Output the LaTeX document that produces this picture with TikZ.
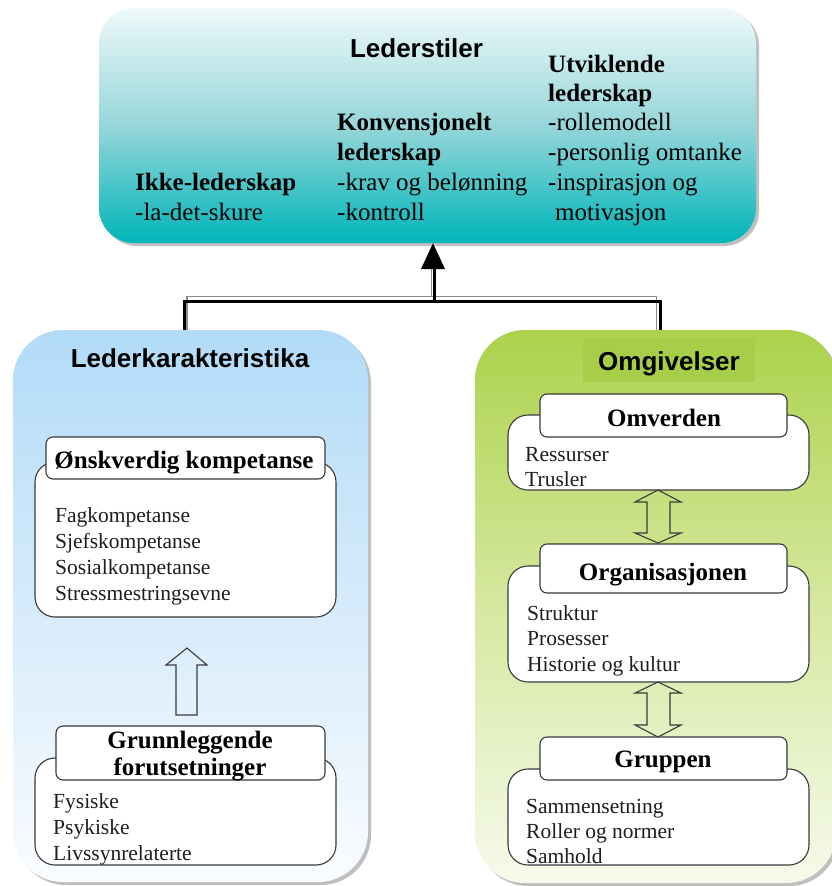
\documentclass[tikz,border=0pt]{standalone}
\usepackage{fontspec}
\setmainfont{Liberation Serif}
\setsansfont{Liberation Sans}
\newfontfamily\tnr{Liberation Serif}
\newfontfamily\arl{Liberation Sans}
\usetikzlibrary{shadows,arrows.meta}
\definecolor{tealtop}{RGB}{238,249,250}
\definecolor{tealmid}{RGB}{150,214,217}
\definecolor{tealbot}{RGB}{0,181,185}
\definecolor{bluetop}{RGB}{178,219,248}
\definecolor{bluemid}{RGB}{214,235,251}
\definecolor{bluebot}{RGB}{250,252,255}
\definecolor{greentop}{RGB}{172,210,76}
\definecolor{greenmid}{RGB}{214,232,160}
\definecolor{greenbot}{RGB}{246,250,236}
\definecolor{greenrect}{RGB}{166,206,72}
\definecolor{linegray}{RGB}{58,58,58}
\definecolor{txtgray}{RGB}{30,30,30}
\tikzset{
  bigbox/.style={draw=none, inner sep=0pt, rounded corners=50pt,
    drop shadow={shadow xshift=3pt, shadow yshift=-3pt, opacity=0.25, fill=black}},
  bodybox/.style={draw=linegray, line width=1.1pt, fill=white, rounded corners=20pt, inner sep=0pt},
  headbox/.style={draw=linegray, line width=1.1pt, fill=white, rounded corners=7pt, inner sep=0pt},
  titletxt/.style={anchor=base, inner sep=0pt, font=\arl\bfseries\fontsize{26}{30}\selectfont},
  toptxt/.style={anchor=base west, inner sep=0pt, font=\tnr\fontsize{25}{30}\selectfont},
  topbold/.style={toptxt, font=\tnr\bfseries\fontsize{25}{30}\selectfont},
  headtxt/.style={anchor=base, inner sep=0pt, font=\tnr\bfseries\fontsize{25}{30}\selectfont},
  bodytxt/.style={anchor=base west, inner sep=0pt, text=txtgray, font=\tnr\fontsize{21.5}{26}\selectfont},
  connblack/.style={line width=3pt, black},
  conngray/.style={line width=1.3pt, black!45},
  hollow/.style={draw=linegray, line width=1.1pt, line join=miter}
}
\begin{document}
\begin{tikzpicture}[x=1pt,y=-1pt]
\clip (0,0) rectangle (832,886);
\fill[white] (0,0) rectangle (832,886);

% big boxes
\node[bigbox, rounded corners=35pt, minimum width=657pt, minimum height=235pt,
  top color=tealtop, bottom color=tealbot, middle color=tealmid] (styles) at (427.5,125.5) {};
\node[bigbox, minimum width=355pt, minimum height=552pt,
  top color=bluetop, bottom color=bluebot, middle color=bluemid] (lk) at (190.5,606) {};
\node[bigbox, minimum width=361pt, minimum height=553pt,
  top color=greentop, bottom color=greenbot, middle color=greenmid] (omg) at (655.5,606.5) {};
\fill[greenrect] (583,338) rectangle (755,382);

% connectors
\coordinate (jl) at (184,301);
\coordinate (jm) at (434.5,301);
\coordinate (jr) at (660,301);
\coordinate (gl) at (187,296.5);
\coordinate (gm) at (431.5,296.5);
\coordinate (gr) at (656.5,296.5);
\coordinate (tipbase) at (433,269);
\draw[conngray] (lk.north -| gl) -- (gl) -- (gr) -- (omg.north -| gr);
\draw[conngray] (gm) -- (tipbase -| gm);
\draw[connblack] (lk.north -| jl) -- (jl) -- (jr) -- (omg.north -| jr);
\draw[connblack] (jm) -- (tipbase -| jm);
\fill[black] (421,269) -- (styles.south -| tipbase) -- (445,269) -- cycle;

% titles
\node[titletxt] (t1) at (416.5,57) {Lederstiler};
\node[titletxt] (t2) at (190,367) {Lederkarakteristika};
\node[titletxt] (t3) at (669,370) {Omgivelser};

% top texts
\node[topbold] (a1) at (135,190) {Ikke-lederskap};
\node[toptxt] (a2) at (135,220) {-la-det-skure};
\node[topbold] (b1) at (337,130) {Konvensjonelt};
\node[topbold] (b2) at (337,160) {lederskap};
\node[toptxt] (b3) at (337,190) {-krav og belønning};
\node[toptxt] (b4) at (337,220) {-kontroll};
\node[topbold] (c1) at (548,72) {Utviklende};
\node[topbold] (c2) at (548,101) {lederskap};
\node[toptxt] (c3) at (548,130) {-rollemodell};
\node[toptxt] (c4) at (548,160) {-personlig omtanke};
\node[toptxt] (c5) at (548,190) {-inspirasjon og};
\node[toptxt] (c6) at (555,220) {motivasjon};

% left inner boxes
\node[bodybox, minimum width=301pt, minimum height=155pt] (okb) at (185.5,539.5) {};
\node[headbox, minimum width=279pt, minimum height=42pt] (okh) at (185.5,458) {};
\node[headtxt] (okt) at (184,468) {Ønskverdig kompetanse};
\node[bodytxt] (ok1) at (55,522) {Fagkompetanse};
\node[bodytxt] (ok2) at (55,548) {Sjefskompetanse};
\node[bodytxt] (ok3) at (55,574) {Sosialkompetanse};
\node[bodytxt] (ok4) at (55,600) {Stressmestringsevne};

\node[bodybox, minimum width=301pt, minimum height=107pt] (gfb) at (185.5,811.5) {};
\node[headbox, minimum width=269pt, minimum height=54pt] (gfh) at (190.5,753) {};
\node[headtxt] (gft1) at (190,748) {Grunnleggende};
\node[headtxt] (gft2) at (190,775) {forutsetninger};
\node[bodytxt] (gf1) at (53,808) {Fysiske};
\node[bodytxt] (gf2) at (53,834) {Psykiske};
\node[bodytxt] (gf3) at (53,860) {Livssynrelaterte};

% left hollow arrow
\draw[hollow] (176,715) -- (176,665) -- (166,665) -- (187,648) -- (207,665) -- (197,665) -- (197,715) -- cycle;

% right inner boxes
\node[bodybox, minimum width=301pt, minimum height=75pt] (omb) at (658.5,452.5) {};
\node[headbox, minimum width=247pt, minimum height=43pt] (omh) at (663.5,415.5) {};
\node[headtxt] (omt) at (664,426) {Omverden};
\node[bodytxt] (om1) at (525,461) {Ressurser};
\node[bodytxt] (om2) at (525,486) {Trusler};

\node[bodybox, minimum width=301pt, minimum height=116pt] (orb) at (658.5,624) {};
\node[headbox, minimum width=247pt, minimum height=49pt] (orh) at (663.5,568.5) {};
\node[headtxt] (ort) at (663,580) {Organisasjonen};
\node[bodytxt] (or1) at (527,620) {Struktur};
\node[bodytxt] (or2) at (527,645) {Prosesser};
\node[bodytxt] (or3) at (527,671) {Historie og kultur};

\node[bodybox, minimum width=301pt, minimum height=96pt] (grb) at (658.5,817) {};
\node[headbox, minimum width=247pt, minimum height=43pt] (grh) at (663.5,758.5) {};
\node[headtxt] (grt) at (663,767) {Gruppen};
\node[bodytxt] (gr1) at (526,813) {Sammensetning};
\node[bodytxt] (gr2) at (526,838) {Roller og normer};
\node[bodytxt] (gr3) at (526,863) {Samhold};

% double hollow arrows
\draw[hollow] (658,490) -- (681,502) -- (670,502) -- (670,533) -- (681,533) -- (658,543)
  -- (635,533) -- (647,533) -- (647,502) -- (635,502) -- cycle;
\draw[hollow] (658,682) -- (681,693) -- (670,693) -- (670,725) -- (681,725) -- (658,737)
  -- (635,725) -- (647,725) -- (647,693) -- (635,693) -- cycle;
\end{tikzpicture}
\end{document}
